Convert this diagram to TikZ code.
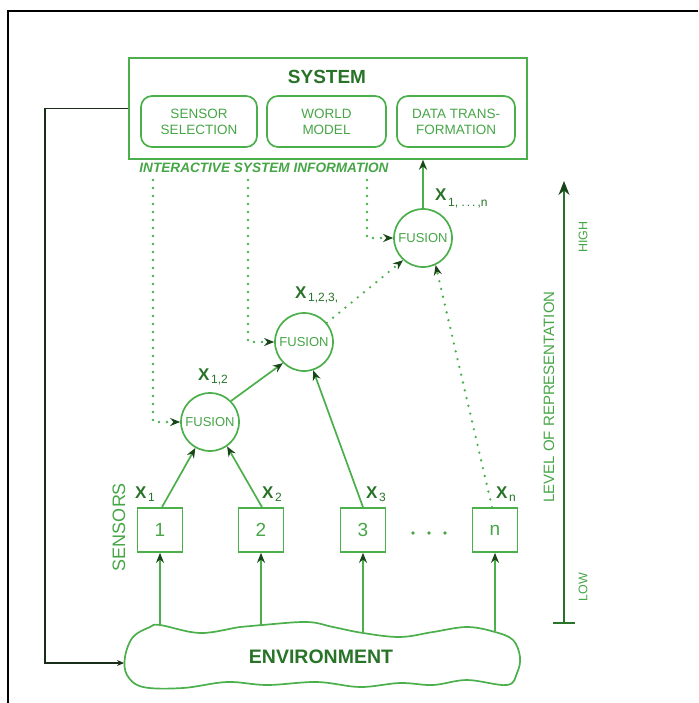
\documentclass[tikz,border=0pt]{standalone}
\usepackage{fontspec}
\setmainfont{Liberation Sans}
\usetikzlibrary{arrows.meta,calc}
\definecolor{lg}{RGB}{75,175,75}
\definecolor{tg}{RGB}{70,165,70}
\definecolor{dg}{RGB}{40,115,40}
\definecolor{tipc}{RGB}{25,70,25}
\definecolor{fbk}{RGB}{25,45,25}
\newcommand\myxlab[2][-3pt]{{\fontsize{17}{17}\selectfont\bfseries X}\,{\fontsize{12}{12}\selectfont\raisebox{#1}{#2}}}
\begin{document}
\begin{tikzpicture}[x=1pt,y=-1pt,
  ln/.style={draw=lg, line width=1.7pt},
  arr/.style={ln, -{Stealth[length=10pt,width=8pt,color=tipc]}},
  dots/.style={draw=lg, line width=2.6pt, line cap=round, dash pattern=on 0pt off 8pt},
  darr/.style={dots, -{Stealth[length=10pt,width=8pt,color=tipc]}},
  rbox/.style={draw=lg, line width=1.7pt, rounded corners=11pt, minimum height=51pt, align=center, text=tg, font=\fontsize{13.5}{16}\selectfont, inner sep=0pt},
  sbox/.style={draw=lg, line width=1.7pt, minimum width=45pt, minimum height=44pt, text=tg, font=\fontsize{19}{19}\selectfont, inner sep=0pt},
  fus/.style={circle, draw=lg, line width=1.7pt, minimum size=58pt, inner sep=0pt, text=tg, font=\fontsize{13}{13}\selectfont},
  xl/.style={text=dg, inner sep=0pt, anchor=west},
  side/.style={text=tg, rotate=90, inner sep=0pt}
]
\useasboundingbox (0,0) rectangle (698,703);
% outer frame
\draw[black, line width=1.6pt] (8,703) -- (8,11) -- (698,11);

% system box
\node[draw=lg, line width=1.7pt, minimum width=398pt, minimum height=101pt, anchor=north west, inner sep=0pt] (sys) at (128,57) {};
\node[text=dg, font=\fontsize{19}{19}\selectfont\bfseries] (systitle) at (327,77) {SYSTEM};
\node[rbox, minimum width=116pt] (ss) at (199,121.5) {SENSOR\\SELECTION};
\node[rbox, minimum width=119pt] (wm) at (326.5,121.5) {WORLD\\MODEL};
\node[rbox, minimum width=118pt] (dt) at (456,121.5) {DATA TRANS-\\FORMATION};
\node[text=tg, font=\fontsize{13.6}{14}\selectfont\bfseries\itshape] (isi) at (264,168) {INTERACTIVE SYSTEM INFORMATION};

% fusion nodes
\node[fus] (f1) at (210,422) {FUSION};
\node[fus] (f2) at (304,342) {FUSION};
\node[fus] (f3) at (423,238) {FUSION};

% sensors
\node[sbox] (s1) at (160,530) {1};
\node[sbox] (s2) at (261,530) {2};
\node[sbox] (s3) at (363,530) {3};
\node[sbox] (sn) at (495,530) {n};
\fill[tg] (413,533) circle (1.8) (429,533) circle (1.8) (445,533) circle (1.8);
\node[side, font=\fontsize{18}{18}\selectfont] (sens) at (119,527) {SENSORS};

% environment cloud
\draw[ln] plot[smooth cycle, tension=0.6] coordinates {
 (125,657) (133,637) (150,627) (160,625) (200,633) (240,627) (262,625) (307,622)
 (333,627) (363,633) (400,637) (433,632) (467,627) (495,632) (513,640) (520,657)
 (517,673) (507,685) (467,680) (433,685) (400,683) (360,687) (317,682) (267,685)
 (227,682) (183,688) (143,687) (127,675)};
\node[text=dg, font=\fontsize{19.5}{19}\selectfont\bfseries] (env) at (321,657) {ENVIRONMENT};
\coordinate (e1) at (160,626);
\coordinate (e2) at (261,626);
\coordinate (e3) at (363,632);
\coordinate (e4) at (495,631);
\coordinate (envleft) at (124,663);

% environment to sensors
\draw[arr] (e1) -- (s1.south);
\draw[arr] (e2) -- (s2.south);
\draw[arr] (e3) -- (s3.south);
\draw[arr] (e4) -- (sn.south);

% sensors to fusion
\draw[arr] ([xshift=2pt]s1.north) -- (f1);
\draw[arr] ([xshift=1pt]s2.north) -- (f1.-55);
\draw[arr] (s3.north) -- (f2.-72);
\draw[darr] ([xshift=-3pt]sn.north) -- (f3.-65);
\draw[arr] (f1.45) -- (f2.225);
\draw[darr] (f2.40) -- (f3.228);
\draw[arr] (f3.north) -- (f3.north |- sys.south);

% interactive feedback dotted lines
\coordinate (c1) at (153,180);
\coordinate (c2) at (248,180);
\coordinate (c3) at (367,180);
\draw[darr] (c1) |- (f1.west);
\draw[darr] (c2) |- (f2.west);
\draw[darr] (c3) |- (f3.west);

% x labels
\node[xl] (x1) at (135,494) {\myxlab{1}};
\node[xl] (x2) at (262,494) {\myxlab{2}};
\node[xl] (x3) at (366,494) {\myxlab{3}};
\node[xl] (xn) at (496,494) {\myxlab{n}};
\node[xl] (x12) at (198,377) {\myxlab{1,2}};
\node[xl] (x123) at (295,295) {\myxlab{1,2,3,}};
\node[xl] (x1n) at (435,198) {\myxlab[-6pt]{1, .\,.\,.\,,n}};

% system feedback to environment
\draw[draw=fbk, line width=1.5pt, -{Stealth[length=7pt,width=6pt]}] (sys.west) -- ++(-83,0) |- (envleft);

% level of representation axis
\coordinate (alow) at (564,623);
\coordinate (ahigh) at (564,181);
\draw[draw=dg, line width=1.4pt, -{Stealth[length=14pt,width=11pt,color=tipc]}] (alow) -- (ahigh);
\draw[draw=dg, line width=2.2pt] ([xshift=-11pt]alow) -- ([xshift=11pt]alow);
\node[side, font=\fontsize{15}{15}\selectfont] (lor) at (549,397) {LEVEL OF REPRESENTATION};
\node[side, font=\fontsize{12.5}{12}\selectfont] (hi) at (583,237) {HIGH};
\node[side, font=\fontsize{12.5}{12}\selectfont] (lo) at (583,587) {LOW};
\end{tikzpicture}
\end{document}
